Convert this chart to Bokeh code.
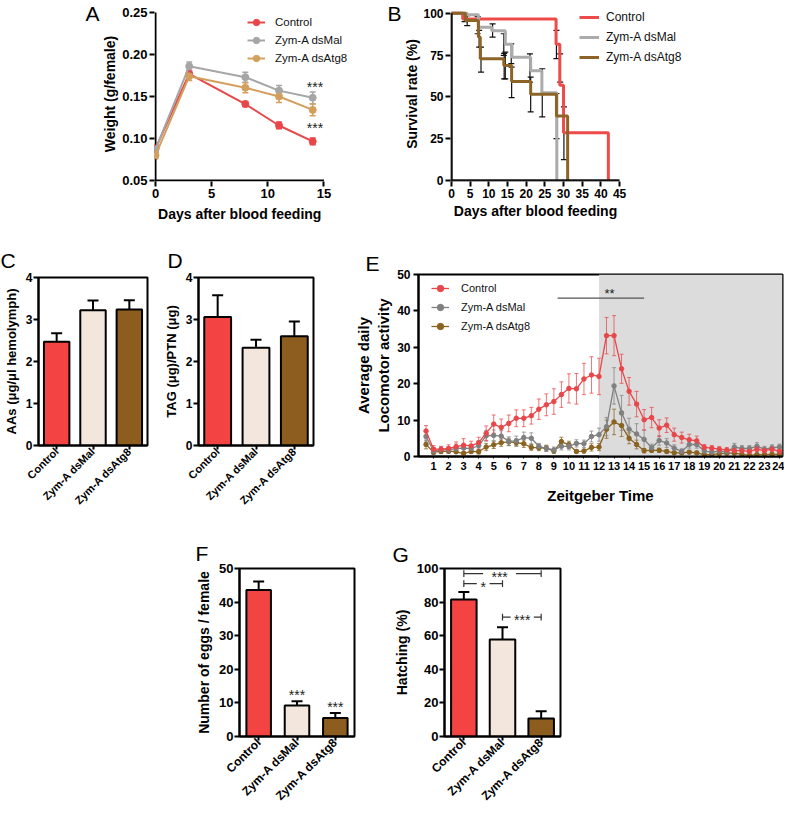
import math
from bokeh.plotting import figure
from bokeh.models import (ColumnDataSource, Whisker, TeeHead, Legend, LegendItem,
                          Label, FixedTicker, BoxAnnotation, Range1d, FactorRange,
                          NumeralTickFormatter, LinearAxis, CustomJSTickFormatter)
from bokeh.layouts import column, row, Spacer
from bokeh.embed import file_html
from bokeh.resources import INLINE

FONT = "Liberation Sans"

# ---------------- data ----------------
groups = ["Control", "Zym-A dsMal", "Zym-A dsAtg8"]

# A: weight
weight_days = [0, 3, 8, 11, 14]
weight_ctrl = [0.088, 0.177, 0.141, 0.1155, 0.0965]
weight_ctrl_err = [0.004, 0.004, 0.003, 0.004, 0.004]
weight_mal = [0.087, 0.186, 0.173, 0.157, 0.1485]
weight_mal_err = [0.004, 0.005, 0.006, 0.006, 0.007]
weight_atg = [0.080, 0.174, 0.1605, 0.150, 0.134]
weight_atg_err = [0.004, 0.005, 0.006, 0.007, 0.007]
weight_sig = [(14.2, 0.164, "***"), (14.2, 0.1155, "***")]

# B: survival (Kaplan-Meier steps)
surv_ctrl_t = [0, 3, 28, 29, 30, 42]
surv_ctrl = [100, 96.5, 81.5, 57, 28.5, 0]
surv_mal_t = [0, 4.2, 7.2, 10.8, 14.4, 16.2, 21.2, 24.2, 28.2]
surv_mal = [100, 99, 91.6, 89.5, 81.5, 73.6, 65.6, 52.5, 0]
surv_atg_t = [0, 3.7, 7.2, 7.7, 14, 16.1, 21.2, 28.1, 31.1]
surv_atg = [100, 95.6, 85.7, 72.7, 68.7, 59.2, 51.5, 38.5, 0]
surv_err_x = [3.5, 4.2, 7.0, 7.4, 7.9, 11.0, 14.0, 14.4, 14.1, 16.0, 16.1, 21.0, 21.2,
              24.3, 28.1, 28.1, 29.1, 30.1]
surv_err_lo = [95, 92.6, 87.7, 79.7, 64.8, 85.7, 74.8, 60.8, 60.8, 69.8, 49.5, 58.8, 41.0,
               38.0, 72.8, 25.0, 58.8, 12.5]
surv_err_hi = [99, 98.6, 98.0, 89.7, 79.7, 93.6, 87.7, 76.7, 76.0, 81.7, 67.8, 75.7, 61.8,
               66.8, 89.7, 52.0, 75.7, 44.0]
days_label = "Days after blood feeding"

# C: amino acids
aas = [2.47, 3.22, 3.24]
aas_err = [0.20, 0.23, 0.22]
# D: TAG
tag = [3.06, 2.33, 2.60]
tag_err = [0.52, 0.19, 0.35]
# F: eggs
eggs = [43.6, 9.2, 5.5]
eggs_err = [2.5, 1.3, 1.5]
eggs_sig = [(1.5, 13.4, "***"), (2.5, 9.8, "***")]
# G: hatching
hatch = [81.5, 57.7, 10.7]
hatch_err = [4.5, 7.3, 4.3]
# (x0, x1, y, text centre, half gap, text)
hatch_sig = [(0.5, 2.5, 97, 1.425, 0.425, "***"),
             (0.5, 1.5, 91, 1.0, 0.165, "*"),
             (1.5, 2.5, 71, 2.01, 0.30, "***")]

# E: locomotor activity
zt = [0.5, 1, 1.5, 2, 2.5, 3, 3.5, 4, 4.5, 5, 5.5, 6, 6.5, 7, 7.5, 8, 8.5, 9, 9.5, 10,
      10.5, 11, 11.5, 12, 12.5, 13, 13.5, 14, 14.5, 15, 15.5, 16, 16.5, 17, 17.5, 18,
      18.5, 19, 19.5, 20, 20.5, 21, 21.5, 22, 22.5, 23, 23.5, 24]
loco_ctrl = [7.0, 2.0, 2.0, 2.2, 2.7, 3.1, 2.9, 3.8, 6.4, 8.9, 8.0, 9.1, 10.5, 10.5, 11.2,
             13.0, 14.2, 15.1, 17.0, 18.7, 18.6, 21.3, 22.4, 22.0, 33.2, 33.2, 24.1, 17.9,
             14.4, 10.1, 10.7, 7.8, 8.6, 6.0, 5.2, 4.6, 4.3, 2.5, 2.3, 2.0, 1.8, 1.6, 1.6,
             1.4, 2.0, 1.6, 2.0, 1.4]
loco_ctrl_err = [1.5, 1.0, 0.8, 1.0, 1.3, 1.8, 1.3, 1.5, 2.0, 2.5, 2.3, 2.3, 2.3, 2.3, 2.3,
                 2.8, 3.0, 3.5, 3.5, 4.0, 4.2, 4.3, 5.0, 5.0, 5.0, 5.5, 4.0, 3.8, 3.5, 2.8,
                 2.8, 2.3, 2.0, 1.8, 1.5, 1.5, 1.3, 0.8, 0.7, 0.7, 0.6, 0.6, 0.6, 0.6, 0.7,
                 0.6, 0.7, 0.6]
loco_mal = [5.5, 1.5, 1.8, 1.8, 2.2, 2.3, 2.2, 3.0, 5.7, 5.8, 5.6, 4.2, 4.3, 5.2, 5.0, 2.8,
            2.2, 1.8, 2.8, 2.8, 3.6, 3.5, 5.5, 6.0, 8.2, 19.4, 12.0, 7.5, 6.2, 4.7, 2.4,
            4.4, 3.7, 2.3, 1.4, 3.3, 3.3, 1.5, 1.2, 1.5, 1.3, 2.6, 2.2, 2.2, 2.8, 2.0, 2.4,
            2.6]
loco_mal_err = [1.5, 1.0, 0.8, 0.8, 1.2, 1.0, 1.0, 1.3, 1.5, 1.5, 1.5, 1.2, 1.3, 1.5, 1.5,
                0.8, 0.8, 0.8, 1.0, 1.0, 1.0, 1.0, 1.5, 1.8, 2.5, 5.0, 4.8, 3.0, 2.8, 2.5,
                1.0, 1.3, 1.2, 0.9, 0.7, 1.0, 1.0, 0.8, 0.6, 0.6, 0.6, 1.0, 0.8, 0.8, 1.0,
                0.8, 0.8, 0.8]
loco_atg = [3.3, 1.2, 1.4, 1.5, 1.3, 0.8, 1.4, 1.3, 2.6, 3.2, 3.8, 4.0, 3.8, 3.5, 2.5, 2.4,
            2.3, 1.5, 4.1, 3.2, 1.4, 1.5, 2.5, 2.6, 7.5, 9.5, 8.5, 5.0, 3.3, 1.6, 1.7, 1.7,
            1.4, 1.0, 1.0, 1.2, 1.0, 0.5, 0.5, 0.8, 0.9, 0.9, 0.6, 0.3, 0.5, 0.5, 0.6, 0.6]
loco_atg_err = [1.2, 0.6, 0.6, 0.6, 0.5, 0.5, 0.6, 0.6, 1.0, 1.0, 1.0, 1.0, 1.0, 1.0, 0.8,
                0.8, 0.8, 0.6, 1.2, 1.0, 0.5, 0.5, 1.0, 1.0, 2.5, 3.5, 3.0, 1.5, 1.2, 0.6,
                0.6, 0.6, 0.5, 0.4, 0.4, 0.4, 0.4, 0.3, 0.3, 0.3, 0.3, 0.3, 0.3, 0.2, 0.3,
                0.3, 0.3, 0.3]
zt_ticks = list(range(1, 25))
loco_sig_line = (9.25, 15.0, 43.5)
loco_sig_text = (12.7, 45.3, "**")

# ---------------- colours ----------------
A_COL = ["#e8474a", "#a6a6a6", "#d2a05c"]
B_COL = ["#ee4a4a", "#ababab", "#8c6428"]
E_COL = ["#e8474a", "#808080", "#8b6321"]
BAR_COL = ["#f44343", "#f3e6dc", "#8c5d1f"]


# ---------------- helpers ----------------
def base_fig(w, h, l, r, t, b, xr, yr, outline=True):
    p = figure(width=w, height=h, x_range=xr, y_range=yr,
               min_border_left=l, min_border_right=r, min_border_top=t,
               min_border_bottom=b, output_backend="svg", toolbar_location=None,
               tools="")
    p.grid.visible = False
    p.outline_line_color = "black" if outline else None
    p.outline_line_width = 2
    return p


def style(p, tick_size, label_size, tick_out=5, lab_standoff=2, axl_standoff=4):
    for ax in p.axis:
        ax.axis_line_width = 2
        ax.axis_line_color = "black"
        ax.major_tick_line_width = 2
        ax.major_tick_line_color = "black"
        ax.major_tick_out = tick_out
        ax.major_tick_in = 0
        ax.minor_tick_line_color = None
        ax.major_label_text_font = FONT
        ax.major_label_text_font_style = "bold"
        ax.major_label_text_font_size = tick_size
        ax.major_label_text_color = "black"
        ax.major_label_standoff = lab_standoff
        ax.axis_label_text_font = FONT
        ax.axis_label_text_font_style = "bold"
        ax.axis_label_text_font_size = label_size
        ax.axis_label_text_color = "black"
        ax.axis_label_standoff = axl_standoff


def text_axis(p, side, pos, text, size, style_, standoff):
    # a single text placed as the only tick label of an extra, invisible axis
    ax = LinearAxis(ticker=FixedTicker(ticks=[pos]),
                    formatter=CustomJSTickFormatter(code="return %r" % text),
                    axis_line_color=None, major_tick_line_color=None,
                    minor_tick_line_color=None, major_tick_out=0, major_tick_in=0,
                    major_label_standoff=standoff, major_label_text_font=FONT,
                    major_label_text_font_size=size,
                    major_label_text_font_style=style_,
                    major_label_text_color="black")
    p.add_layout(ax, side)


def top_letter(p, ch, rx, ry_base, fl, ft):
    p.title.text = ch
    p.title.align = "left"
    p.title.vertical_align = "bottom"
    p.title.offset = rx - fl
    p.title.standoff = max(0.0, 2 * ((ft - ry_base) - 2.4))
    p.title.text_font = FONT
    p.title.text_font_size = "21px"
    p.title.text_font_style = "normal"
    p.title.text_color = "black"


def star(p, x, y, text, size="13px"):
    p.add_layout(Label(x=x, y=y, text=text, text_font=FONT, text_font_size=size,
                       text_align="center", text_baseline="middle",
                       text_color="#222222"))


def legend(p, items, loc, size, gw, gh, spacing, standoff):
    lg = Legend(items=items, location=loc, border_line_color=None,
                background_fill_alpha=0, label_text_font=FONT,
                label_text_font_size=size, label_text_color="#111111",
                glyph_width=gw, glyph_height=gh, label_height=gh,
                spacing=spacing, padding=0, margin=0, label_standoff=standoff)
    p.add_layout(lg)


def whisker(p, xs, ys, errs, color, lw, head, alpha=1.0, lower=True):
    src = ColumnDataSource(dict(x=xs,
                                lo=[y - e for y, e in zip(ys, errs)] if lower else ys,
                                hi=[y + e for y, e in zip(ys, errs)]))
    w = Whisker(base="x", lower="lo", upper="hi", source=src, line_color=color,
                line_width=lw, line_alpha=alpha,
                upper_head=TeeHead(size=head, line_color=color, line_width=lw,
                                   line_alpha=alpha),
                lower_head=(TeeHead(size=head, line_color=color, line_width=lw,
                                    line_alpha=alpha) if lower else None))
    p.add_layout(w)


# ---------------- A ----------------
# frame: x 154..356 px (11.2 px/day), y 6..181 px (840 px/unit)
pA = base_fig(358, 230, 154, 2, 6, 49, Range1d(-0.09, 17.9),
              Range1d(0.05 - 1 / 840, 0.05 + 174 / 840), False)
style(pA, "13px", "14px")
pA.yaxis.axis_label_standoff = 1
pA.xaxis.ticker = FixedTicker(ticks=[0, 5, 10, 15])
pA.yaxis.ticker = FixedTicker(ticks=[0.05, 0.10, 0.15, 0.20, 0.25])
pA.yaxis.formatter = NumeralTickFormatter(format="0.00")
pA.yaxis.axis_label = "Weight (g/female)"
pA.xaxis.axis_line_color = None
pA.yaxis.axis_line_color = None
pA.segment(x0=[-0.09, 0], y0=[0.05, 0.05 - 1 / 840], x1=[15, 0], y1=[0.05, 0.25],
           line_color="black", line_width=2)
itemsA = []
for name, vals, errs, col in [(groups[0], weight_ctrl, weight_ctrl_err, A_COL[0]),
                              (groups[1], weight_mal, weight_mal_err, A_COL[1]),
                              (groups[2], weight_atg, weight_atg_err, A_COL[2])]:
    whisker(pA, weight_days, vals, errs, col, 1.5, 6)
    l = pA.line(weight_days, vals, line_color=col, line_width=2)
    s = pA.scatter(weight_days, vals, size=7, fill_color=col, line_color=col)
    itemsA.append(LegendItem(label=name, renderers=[l, s]))
legend(pA, itemsA, (93, 115), "11.5px", 18, 16, 2, 10)
for x, y, t in weight_sig:
    star(pA, x, y - 0.003, t, "14px")
text_axis(pA, "left", 0.05 + 170 / 840, "A", "21px", "normal", 0)
text_axis(pA, "below", 7.5, days_label, "14px", "bold", 5)

# ---------------- B ----------------
# frame: x 450..690 px (3.733 px/day), y 6..181 px (1.673 px/%)
pB = base_fig(427, 230, 92, 95, 6, 49, Range1d(-0.27, 64), Range1d(-0.6, 104), False)
style(pB, "12px", "14px")
pB.yaxis.axis_label_standoff = 0
pB.xaxis.ticker = FixedTicker(ticks=[0, 5, 10, 15, 20, 25, 30, 35, 40, 45])
pB.yaxis.ticker = FixedTicker(ticks=[0, 25, 50, 75, 100])
pB.yaxis.axis_label = "Survival rate (%)"
pB.xaxis.axis_line_color = None
pB.yaxis.axis_line_color = None
itemsB = []
for name, ts, ss, col in [(groups[0], surv_ctrl_t, surv_ctrl, B_COL[0]),
                          (groups[1], surv_mal_t, surv_mal, B_COL[1]),
                          (groups[2], surv_atg_t, surv_atg, B_COL[2])]:
    r = pB.step(ts, ss, mode="after", line_color=col, line_width=3)
    itemsB.append(LegendItem(label=name, renderers=[r]))
srcB = ColumnDataSource(dict(x=surv_err_x, lo=surv_err_lo, hi=surv_err_hi))
pB.add_layout(Whisker(base="x", lower="lo", upper="hi", source=srcB, line_color="#111111",
                      line_width=1.2,
                      upper_head=TeeHead(size=6, line_color="#111111", line_width=1.2),
                      lower_head=TeeHead(size=6, line_color="#111111", line_width=1.2)))
pB.segment(x0=[-0.27, 0], y0=[0, -0.6], x1=[45, 0], y1=[0, 100],
           line_color="#111111", line_width=2.5)
legend(pB, itemsB, (129, 116), "12px", 20, 16, 4, 7)
text_axis(pB, "left", 101.9, "B", "21px", "normal", 0)
text_axis(pB, "below", 22.5, days_label, "14px", "bold", 2)


# ---------------- bar panels ----------------
def bar_panel(w, h, l, r, t, b, vals, errs, ymax, yticks, ylabel, tick_size,
              lab_size, cat_size, bw, cap):
    p = base_fig(w, h, l, r, t, b, FactorRange(factors=groups), Range1d(0, ymax), True)
    style(p, tick_size, lab_size, tick_out=5, lab_standoff=1, axl_standoff=4)
    p.xaxis.major_label_text_font_size = cat_size
    p.xaxis.major_label_orientation = math.pi / 4
    p.xaxis.major_label_standoff = 0
    p.xaxis.major_tick_out = 4
    p.yaxis.ticker = FixedTicker(ticks=yticks)
    p.yaxis.axis_label = ylabel
    p.vbar(x=groups, top=vals, width=bw, fill_color=BAR_COL, line_color="black",
           line_width=2)
    whisker(p, groups, vals, errs, "black", 2, cap, lower=False)
    return p


pC = bar_panel(160, 283, 35, 13, 47, 68, aas, aas_err, 4, [0, 1, 2, 3, 4],
               "AAs (μg/μl hemolymph)", "12px", "13px", "11px", 0.7, 11)
top_letter(pC, "C", -3, 269, 35, 277)
pD = bar_panel(160, 283, 38, 7, 47, 68, tag, tag_err, 4, [0, 1, 2, 3, 4],
               "TAG (μg)/PTN (μg)", "12px", "13px", "11px", 0.7, 11)
top_letter(pD, "D", 167, 269, 198, 277)
pF = bar_panel(210, 299, 59, 36, 55, 76, eggs, eggs_err, 50, [0, 10, 20, 30, 40, 50],
               "Number of eggs / female", "13px", "14px", "12px", 0.64, 11)
for x, y, t in eggs_sig:
    star(pF, x, y - 0.9, t, "14px")
top_letter(pF, "F", 195, 562, 239, 568)
pG = bar_panel(210, 299, 53, 40, 55, 76, hatch, hatch_err, 100, [0, 20, 40, 60, 80, 100],
               "Hatching (%)", "13px", "14px", "12px", 0.66, 11)
sx0, sx1, sy0, sy1 = [], [], [], []
for x0, x1, y, xc, hg, t in hatch_sig:
    sx0 += [x0, xc + hg, x0, x1]
    sx1 += [xc - hg, x1, x0, x1]
    sy0 += [y, y, y - 2, y - 2]
    sy1 += [y, y, y + 2, y + 2]
    star(pG, xc, y - 1.8, t, "14px")
pG.segment(x0=sx0, y0=sy0, x1=sx1, y1=sy1, line_color="#333333", line_width=1.2)
top_letter(pG, "G", 391, 563, 443, 568)

# ---------------- E ----------------
pE = base_fig(464, 283, 98, 2, 44, 57, Range1d(0, 24.2), Range1d(0, 50), True)
style(pE, "12px", "15px", tick_out=2, lab_standoff=3, axl_standoff=8)
pE.xaxis.major_label_text_font_size = "11px"
pE.xaxis.major_tick_line_width = 1
pE.xaxis.axis_label_standoff = 14
pE.yaxis.axis_label_standoff = 2
pE.xaxis.ticker = FixedTicker(ticks=zt_ticks)
pE.yaxis.ticker = FixedTicker(ticks=[0, 10, 20, 30, 40, 50])
pE.yaxis.major_tick_out = 5
pE.yaxis.major_tick_line_width = 2
pE.xaxis.axis_label = "Zeitgeber Time"
pE.yaxis.axis_label = "Average daily\nLocomotor activity"
pE.add_layout(BoxAnnotation(left=12, fill_color="#dcdcdc", fill_alpha=1.0,
                            line_color=None, level="underlay"))
itemsE = {}
for name, vals, errs, col in [(groups[2], loco_atg, loco_atg_err, E_COL[2]),
                              (groups[1], loco_mal, loco_mal_err, E_COL[1]),
                              (groups[0], loco_ctrl, loco_ctrl_err, E_COL[0])]:
    whisker(pE, zt, vals, errs, col, 1.0, 4, alpha=0.75)
    l = pE.line(zt, vals, line_color=col, line_width=1.3)
    s = pE.scatter(zt, vals, size=4.5, fill_color=col, line_color=col)
    itemsE[name] = LegendItem(label=name, renderers=[l, s])
legend(pE, [itemsE[g] for g in groups], (13, 122), "11px", 18, 16, 3, 12)
pE.segment(x0=[loco_sig_line[0]], y0=[loco_sig_line[2]], x1=[loco_sig_line[1]],
           y1=[loco_sig_line[2]], line_color="#555555", line_width=1.3)
star(pE, loco_sig_text[0], loco_sig_text[1] - 0.6, loco_sig_text[2], "13px")
top_letter(pE, "E", 365, 273, 418, 274)

layout = column(row(pA, pB), row(pC, pD, column(pE)),
                row(Spacer(width=180, height=299), pF, pG))

open("out.html", "w").write(file_html(layout, INLINE))
